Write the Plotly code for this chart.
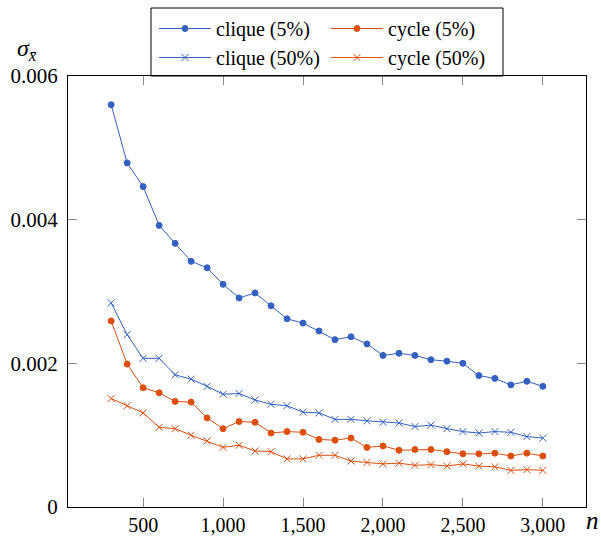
import plotly.graph_objects as go

n = [300, 400, 500, 600, 700, 800, 900, 1000, 1100, 1200, 1300, 1400, 1500, 1600,
     1700, 1800, 1900, 2000, 2100, 2200, 2300, 2400, 2500, 2600, 2700, 2800, 2900, 3000]

clique_5 = [0.00560, 0.00479, 0.00446, 0.00392, 0.00367, 0.00342, 0.00333, 0.00310,
            0.00291, 0.00298, 0.00280, 0.00262, 0.00256, 0.00245, 0.00233, 0.00237,
            0.00227, 0.00211, 0.00214, 0.00211, 0.00205, 0.00203, 0.00200, 0.00183,
            0.00179, 0.00170, 0.00175, 0.00168]
cycle_5 = [0.00259, 0.00199, 0.00166, 0.00159, 0.00147, 0.00146, 0.00124, 0.00109,
           0.00119, 0.00118, 0.00103, 0.00105, 0.00104, 0.00094, 0.00093, 0.00096,
           0.00083, 0.00085, 0.00079, 0.00080, 0.00080, 0.00077, 0.00074, 0.00074,
           0.00075, 0.00071, 0.00075, 0.00071]
clique_50 = [0.00284, 0.00240, 0.00207, 0.00207, 0.00184, 0.00178, 0.00168, 0.00157,
             0.00158, 0.00149, 0.00143, 0.00141, 0.00132, 0.00131, 0.00122, 0.00122,
             0.00120, 0.00118, 0.00117, 0.00112, 0.00114, 0.00109, 0.00105, 0.00103,
             0.00105, 0.00104, 0.00098, 0.00096]
cycle_50 = [0.00151, 0.00141, 0.00131, 0.00111, 0.00109, 0.00100, 0.00092, 0.00083,
            0.00086, 0.00078, 0.00077, 0.00067, 0.00067, 0.00072, 0.00072, 0.00064,
            0.00062, 0.00060, 0.00061, 0.00058, 0.00059, 0.00057, 0.00060, 0.00057,
            0.00056, 0.00051, 0.00052, 0.00051]

x_tickvals = [500, 1000, 1500, 2000, 2500, 3000]
x_ticktext = ["500", "1,000", "1,500", "2,000", "2,500", "3,000"]
y_tickvals = [0, 0.002, 0.004, 0.006]
y_ticktext = ["0", "0.002", "0.004", "0.006"]

BLUE = "#3461c1"
ORANGE = "#dd4f0d"
FONT = "Liberation Serif"
W, H = 601, 536
L, R, T, B = 68, 15, 76, 29

fig = go.Figure()

def add(y, name, color, symbol, size, legend):
    fig.add_trace(go.Scatter(
        x=n, y=y, name=name, mode="lines+markers", legend=legend,
        line=dict(color=color, width=1),
        marker=dict(color=color, symbol=symbol, size=size,
                    line=dict(color=color, width=1)),
    ))

add(clique_5, "clique (5%)", BLUE, "circle", 6, "legend")
add(clique_50, "clique (50%)", BLUE, "x-thin", 7, "legend")
add(cycle_5, "cycle (5%)", ORANGE, "circle", 6, "legend2")
add(cycle_50, "cycle (50%)", ORANGE, "x-thin", 7, "legend2")

axis_common = dict(
    showgrid=False, zeroline=False, showline=True, linecolor="black", linewidth=1,
    mirror="allticks", ticks="inside", ticklen=9, tickcolor="#888888", tickwidth=1,
    automargin=False,
)

fig.update_xaxes(range=[30, 3270], tickvals=x_tickvals, ticktext=x_ticktext,
                 ticklabelstandoff=0, tickfont=dict(family=FONT, size=20, color="black"),
                 **axis_common)
fig.update_yaxes(range=[0, 0.006], tickvals=y_tickvals, ticktext=y_ticktext,
                 ticklabelstandoff=5, tickfont=dict(family=FONT, size=21, color="black"),
                 **axis_common)

pw, ph = W - L - R, H - T - B

def px_x(p):
    return (p - L) / pw

def px_y(p):
    return (H - B - p) / ph

fig.add_annotation(text="<i>σ</i><sub><i>x̄</i></sub>", xref="paper", yref="paper",
                   x=px_x(27), y=px_y(50), xanchor="center", yanchor="middle",
                   showarrow=False, font=dict(family=FONT, size=24, color="black"))
fig.add_annotation(text="<i>n</i>", xref="paper", yref="paper",
                   x=px_x(592), y=px_y(520), xanchor="center", yanchor="middle",
                   showarrow=False, font=dict(family=FONT, size=25, color="black"))

# legend frame
fig.add_shape(type="rect", xref="paper", yref="paper",
              x0=px_x(151), x1=px_x(503), y0=1, y1=px_y(8),
              line=dict(color="black", width=1), fillcolor="rgba(0,0,0,0)", layer="above")

leg_common = dict(
    orientation="v", yanchor="top", xanchor="left",
    borderwidth=0, bgcolor="rgba(0,0,0,0)", itemwidth=52,
    font=dict(family=FONT, size=20, color="black"), tracegroupgap=0,
)

fig.update_layout(
    width=W, height=H,
    margin=dict(l=L, r=R, t=T, b=B, autoexpand=False),
    plot_bgcolor="white", paper_bgcolor="white",
    font=dict(family=FONT, size=20, color="black"),
    legend=dict(x=px_x(154), y=px_y(9), **leg_common),
    legend2=dict(x=px_x(326), y=px_y(9), **leg_common),
)

fig.write_html("out.html", config={"displayModeBar": False},
               post_script="document.body.style.margin='0px';")
